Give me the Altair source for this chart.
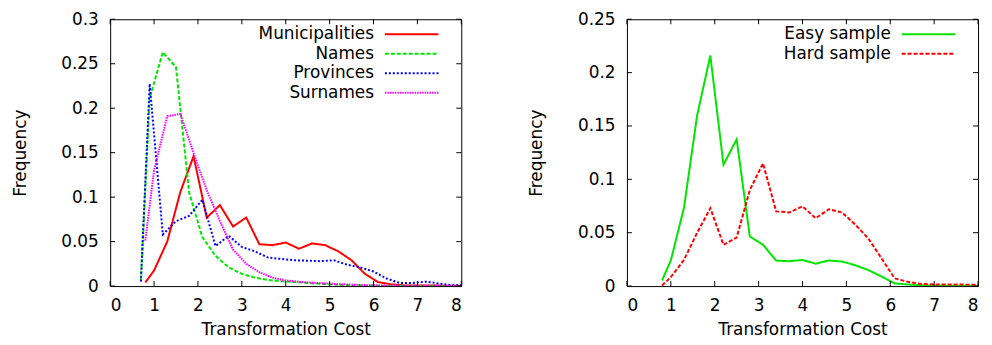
import altair as alt
import pandas as pd

# ---------------- data ----------------
muni_x = [0.8, 1.0, 1.3, 1.6, 1.9, 2.2, 2.5, 2.8, 3.1, 3.4, 3.7, 4.0, 4.3, 4.6, 4.9, 5.2, 5.5, 5.8, 6.1, 6.4, 6.7, 7.0, 7.3, 7.6, 7.9, 8.0]
muni_y = [0.004, 0.0175, 0.050, 0.106, 0.146, 0.077, 0.091, 0.067, 0.077, 0.047, 0.046, 0.049, 0.042, 0.048, 0.046, 0.039, 0.029, 0.014, 0.0045, 0.002, 0.0008, 0.0007, 0.0006, 0.0005, 0.0004, 0.0004]

names_x = [0.7, 0.9, 1.2, 1.5, 1.8, 2.1, 2.4, 2.7, 3.0, 3.3, 3.6, 3.9, 4.2, 4.5, 4.8, 5.1, 5.4, 5.7, 6.0, 6.3, 6.6, 6.9, 7.2, 7.5, 7.8]
names_y = [0.006, 0.211, 0.263, 0.246, 0.105, 0.055, 0.034, 0.021, 0.0137, 0.0095, 0.0068, 0.0055, 0.0045, 0.0035, 0.0025, 0.0018, 0.0012, 0.0008, 0.0005, 0.0004, 0.0003, 0.0002, 0.0002, 0.0001, 0.0001]

prov_x = [0.7, 0.9, 1.2, 1.5, 1.8, 2.1, 2.4, 2.7, 3.0, 3.3, 3.6, 3.9, 4.2, 4.5, 4.8, 5.1, 5.4, 5.7, 6.0, 6.3, 6.6, 6.9, 7.2, 7.5, 7.8, 8.0]
prov_y = [0.005, 0.2275, 0.058, 0.073, 0.079, 0.097, 0.045, 0.0565, 0.044, 0.039, 0.032, 0.0305, 0.029, 0.0285, 0.028, 0.029, 0.024, 0.021, 0.0164, 0.0085, 0.0035, 0.0035, 0.005, 0.0028, 0.001, 0.001]

surn_x = [0.8, 1.0, 1.3, 1.6, 1.9, 2.2, 2.5, 2.8, 3.1, 3.4, 3.7, 4.0, 4.3, 4.6, 4.9, 5.2, 5.5, 5.8, 6.1, 6.4, 6.7, 7.0, 7.3, 7.6, 7.9]
surn_y = [0.051, 0.13, 0.191, 0.1935, 0.1495, 0.108, 0.073, 0.041, 0.025, 0.0155, 0.0095, 0.0063, 0.0048, 0.0038, 0.003, 0.0022, 0.0016, 0.0011, 0.0008, 0.0006, 0.0004, 0.0003, 0.0003, 0.0002, 0.0002]

sample_x = [0.8, 1.0, 1.3, 1.6, 1.9, 2.2, 2.5, 2.8, 3.1, 3.4, 3.7, 4.0, 4.3, 4.6, 4.9, 5.2, 5.5, 5.8, 6.1, 6.4, 6.7, 7.0, 7.3, 7.6, 7.9, 8.0]
easy_y = [0.0053, 0.024, 0.0734, 0.160, 0.216, 0.1137, 0.1375, 0.0465, 0.0387, 0.0239, 0.0233, 0.0245, 0.021, 0.024, 0.023, 0.0196, 0.015, 0.009, 0.0025, 0.0015, 0.0008, 0.0005, 0.0004, 0.0003, 0.0002, 0.0002]
hard_y = [0.0006, 0.0084, 0.0245, 0.050, 0.073, 0.0387, 0.0455, 0.090, 0.115, 0.070, 0.069, 0.0747, 0.0636, 0.072, 0.069, 0.0577, 0.0446, 0.026, 0.0072, 0.004, 0.002, 0.0015, 0.0015, 0.0014, 0.0013, 0.0012]

left_series = ["Municipalities", "Names", "Provinces", "Surnames"]
right_series = ["Easy sample", "Hard sample"]
x_ticks = [0, 1, 2, 3, 4, 5, 6, 7, 8]
left_y_ticks = [0, 0.05, 0.1, 0.15, 0.2, 0.25, 0.3]
right_y_ticks = [0, 0.05, 0.1, 0.15, 0.2, 0.25]

# ---------------- style ----------------
W, H = 354, 269
FONT = "DejaVu Sans"
FS = 17
TICK = 5


def long_df(pairs):
    rows = []
    for name, xs, ys in pairs:
        for xv, yv in zip(xs, ys):
            rows.append({"series": name, "cost": xv, "freq": yv})
    return pd.DataFrame(rows)


def panel(df, order, colors, dashes, widths, ymax, yticks):
    xscale = alt.Scale(domain=[0, 8], nice=False, zero=False)
    yscale = alt.Scale(domain=[0, ymax], nice=False)
    xaxis = alt.Axis(values=x_ticks, format="d", title="Transformation Cost",
                     labelPadding=12, titlePadding=8)
    color = alt.Color("series:N", scale=alt.Scale(domain=order, range=colors), legend=None)
    dash = alt.StrokeDash("series:N", scale=alt.Scale(domain=order, range=dashes), legend=None)
    sw = alt.StrokeWidth("series:N", scale=alt.Scale(domain=order, range=widths), legend=None)

    lines = alt.Chart(df).mark_line(clip=True).encode(
        x=alt.X("cost:Q", scale=xscale, axis=xaxis),
        y=alt.Y("freq:Q", scale=yscale,
                axis=alt.Axis(values=yticks, format="~g", title="Frequency",
                              labelPadding=12, titlePadding=32)),
        color=color, strokeDash=dash, strokeWidth=sw,
    )

    xt = pd.DataFrame({"cost": x_ticks})
    yt = pd.DataFrame({"t": yticks})
    xt_enc = alt.X("cost:Q", scale=xscale, axis=xaxis)
    yt_enc = alt.Y("t:Q", scale=yscale, axis=None)
    bot = alt.Chart(xt).mark_rule(color="black", strokeWidth=1).encode(
        x=xt_enc, y=alt.value(H), y2=alt.value(H - TICK))
    top = alt.Chart(xt).mark_rule(color="black", strokeWidth=1).encode(
        x=xt_enc, y=alt.value(0), y2=alt.value(TICK))
    lft = alt.Chart(yt).mark_rule(color="black", strokeWidth=1).encode(
        y=yt_enc, x=alt.value(0), x2=alt.value(TICK))
    rgt = alt.Chart(yt).mark_rule(color="black", strokeWidth=1).encode(
        y=yt_enc, x=alt.value(W), x2=alt.value(W - TICK))

    leg = pd.DataFrame({"series": order, "row": list(range(len(order)))})
    row_enc = alt.Y("row:Q", axis=None, scale=alt.Scale(domain=[0, 3], range=[15, 74]))
    leg_lines = alt.Chart(leg).mark_rule().encode(
        x=alt.value(W - 77), x2=alt.value(W - 23), y=row_enc,
        color=color, strokeDash=dash, strokeWidth=sw)
    leg_text = alt.Chart(leg).mark_text(
        align="right", baseline="middle", font=FONT, fontSize=FS, color="black"
    ).encode(x=alt.value(W - 88), y=row_enc, text="series:N")

    return alt.layer(lines, bot, top, lft, rgt, leg_lines, leg_text).resolve_scale(
        y="independent").properties(width=W, height=H)


left_df = long_df([
    ("Municipalities", muni_x, muni_y),
    ("Names", names_x, names_y),
    ("Provinces", prov_x, prov_y),
    ("Surnames", surn_x, surn_y),
])
right_df = long_df([
    ("Easy sample", sample_x, easy_y),
    ("Hard sample", sample_x, hard_y),
])

left = panel(left_df, left_series,
             ["#ff0000", "#00e600", "#0000ff", "#ff00ff"],
             [[1, 0], [4, 2], [2, 2], [1.5, 1]],
             [2, 2, 2, 1.5], 0.3, left_y_ticks)
right = panel(right_df, right_series,
              ["#00e600", "#ff0000"],
              [[1, 0], [4, 2]],
              [2, 2], 0.25, right_y_ticks)

chart = alt.hconcat(left, right, spacing=65).resolve_scale(
    color="independent", strokeDash="independent", strokeWidth="independent"
).properties(
    padding={"left": 2, "top": 0, "right": 5, "bottom": 0}
).configure_view(
    stroke="black", strokeWidth=1
).configure_axis(
    labelFont=FONT, labelFontSize=FS, labelColor="black",
    titleFont=FONT, titleFontSize=FS, titleColor="black", titleFontWeight="normal",
    domain=False, ticks=False, grid=False
)

chart.save("out.html", embed_options={"renderer": "svg", "actions": False})
